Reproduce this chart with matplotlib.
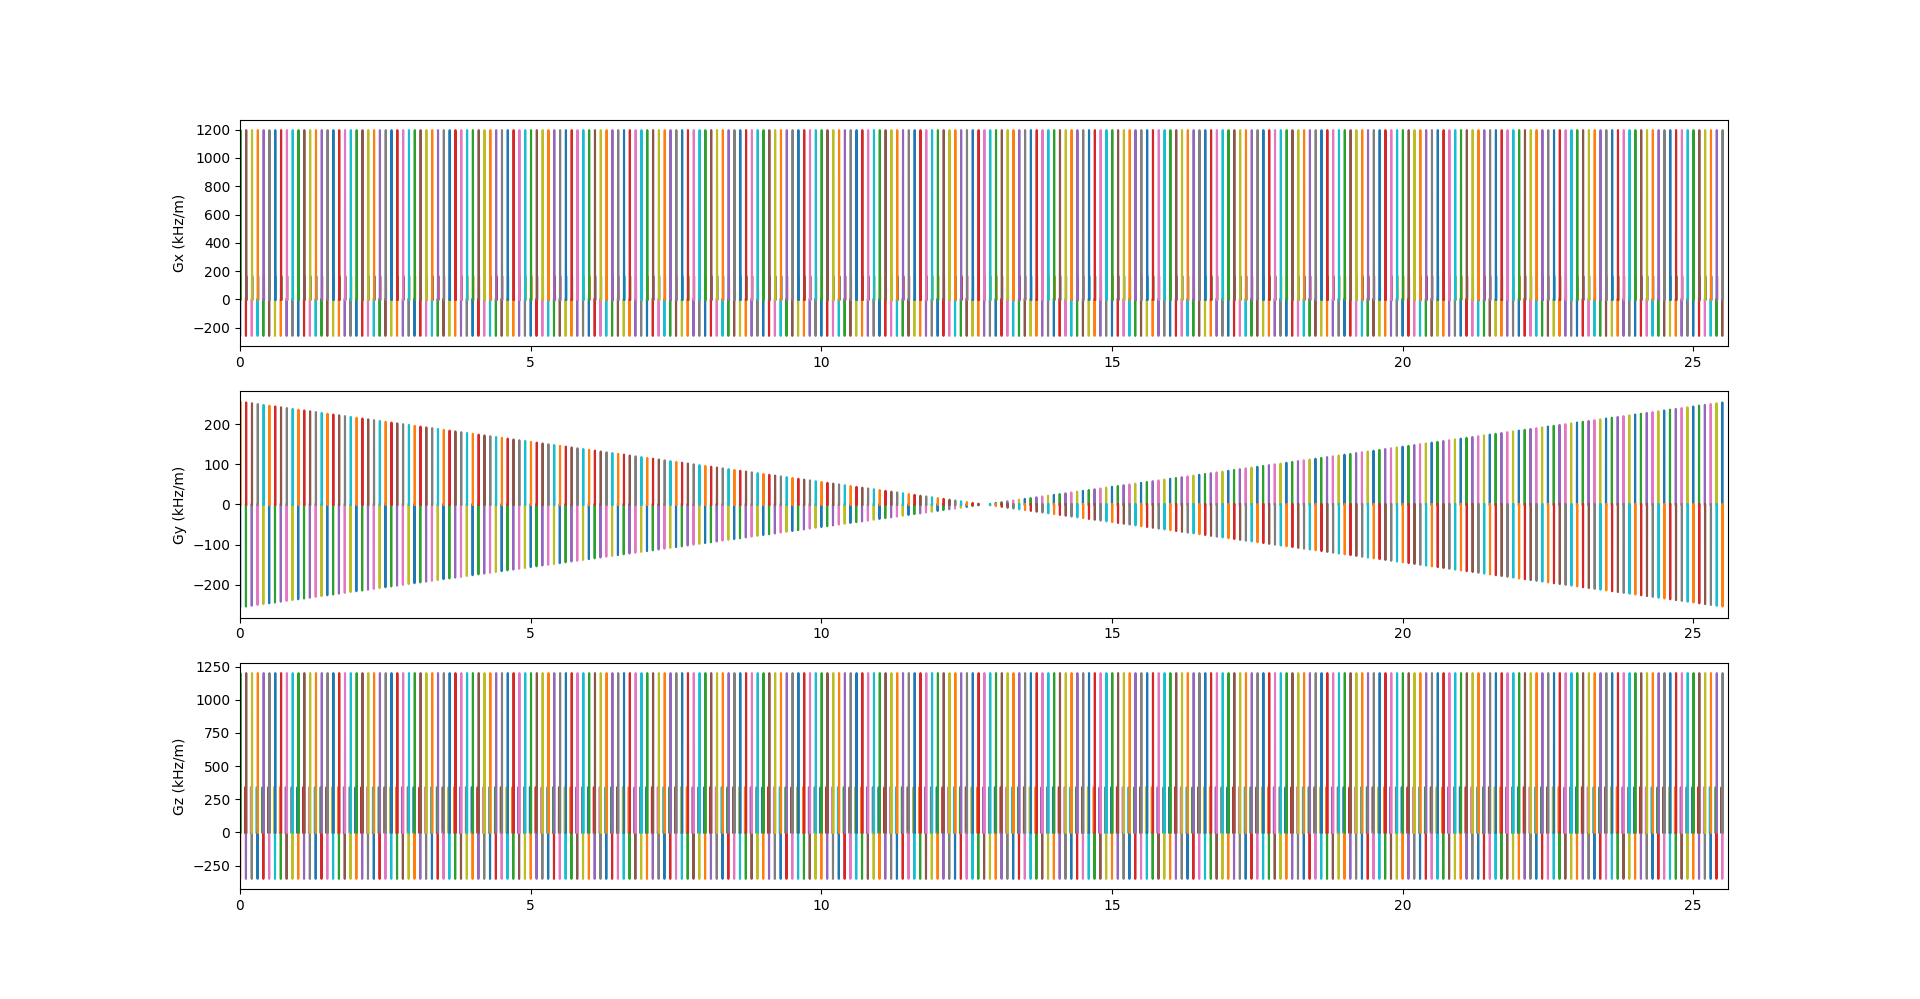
import numpy as np
import matplotlib
matplotlib.use("Agg")
import matplotlib.pyplot as plt

# ---- sequence data -------------------------------------------------------
n_tr = 256            # number of repetitions (phase-encode lines)
tr = 0.1              # repetition spacing on the time axis
t_end = 25.6

# Gx per-TR gradient lobes (kHz/m): prephaser, small lobe, readout
gx_levels = [-257, 165, 1196]
# Gz per-TR gradient lobes (kHz/m): small lobe, refocus, slice select
gz_levels = [340, -350, 1200]
# Gy phase-encode amplitude per TR (kHz/m); rewinder is the negative
gy_pe = [
    -256, -254, -252, -250, -248, -246, -244, -242, -240, -238, -236, -234, -232, -230, -228, -226,
    -224, -222, -220, -218, -216, -214, -212, -210, -208, -206, -204, -202, -200, -198, -196, -194,
    -192, -190, -188, -186, -184, -182, -180, -178, -176, -174, -172, -170, -168, -166, -164, -162,
    -160, -158, -156, -154, -152, -150, -148, -146, -144, -142, -140, -138, -136, -134, -132, -130,
    -128, -126, -124, -122, -120, -118, -116, -114, -112, -110, -108, -106, -104, -102, -100, -98,
    -96, -94, -92, -90, -88, -86, -84, -82, -80, -78, -76, -74, -72, -70, -68, -66,
    -64, -62, -60, -58, -56, -54, -52, -50, -48, -46, -44, -42, -40, -38, -36, -34,
    -32, -30, -28, -26, -24, -22, -20, -18, -16, -14, -12, -10, -8, -6, -4, -2,
    0, 2, 4, 6, 8, 10, 12, 14, 16, 18, 20, 22, 24, 26, 28, 30,
    32, 34, 36, 38, 40, 42, 44, 46, 48, 50, 52, 54, 56, 58, 60, 62,
    64, 66, 68, 70, 72, 74, 76, 78, 80, 82, 84, 86, 88, 90, 92, 94,
    96, 98, 100, 102, 104, 106, 108, 110, 112, 114, 116, 118, 120, 122, 124, 126,
    128, 130, 132, 134, 136, 138, 140, 142, 144, 146, 148, 150, 152, 154, 156, 158,
    160, 162, 164, 166, 168, 170, 172, 174, 176, 178, 180, 182, 184, 186, 188, 190,
    192, 194, 196, 198, 200, 202, 204, 206, 208, 210, 212, 214, 216, 218, 220, 222,
    224, 226, 228, 230, 232, 234, 236, 238, 240, 242, 244, 246, 248, 250, 252, 254,
]
ylabels = ['Gx (kHz/m)', 'Gy (kHz/m)', 'Gz (kHz/m)']
gx_ticks = [-200, 0, 200, 400, 600, 800, 1000, 1200]

# ---- drawing helpers -----------------------------------------------------
RISE, FLAT = 0.001, 0.002


def trap(ax, t0, amp):
    t = t0 + np.array([0.0, RISE, RISE + FLAT, 2 * RISE + FLAT])
    ax.plot(t, [0, amp, amp, 0])


fig, axes = plt.subplots(3, 1, figsize=(19.2, 9.99), dpi=100)
ax_x, ax_y, ax_z = axes

gx_offsets = [0.0, 0.010, 0.005]
gz_offsets = [-0.014, 0.0, 0.005]
gy_offsets = [0.0, 0.004]

for k in range(n_tr):
    t0 = k * tr
    for lvl, off in zip(gx_levels, gx_offsets):
        trap(ax_x, t0 + off, lvl)
    pe = gy_pe[k]
    trap(ax_y, t0 + gy_offsets[0], pe)
    trap(ax_y, t0 + gy_offsets[1], -pe)
    for lvl, off in zip(gz_levels, gz_offsets):
        trap(ax_z, t0 + off, lvl)

for ax, lab in zip(axes, ylabels):
    ax.set_xlim(0, t_end)
    ax.set_ylabel(lab)
ax_x.set_yticks(gx_ticks)

fig.savefig('out.png', dpi=100)
